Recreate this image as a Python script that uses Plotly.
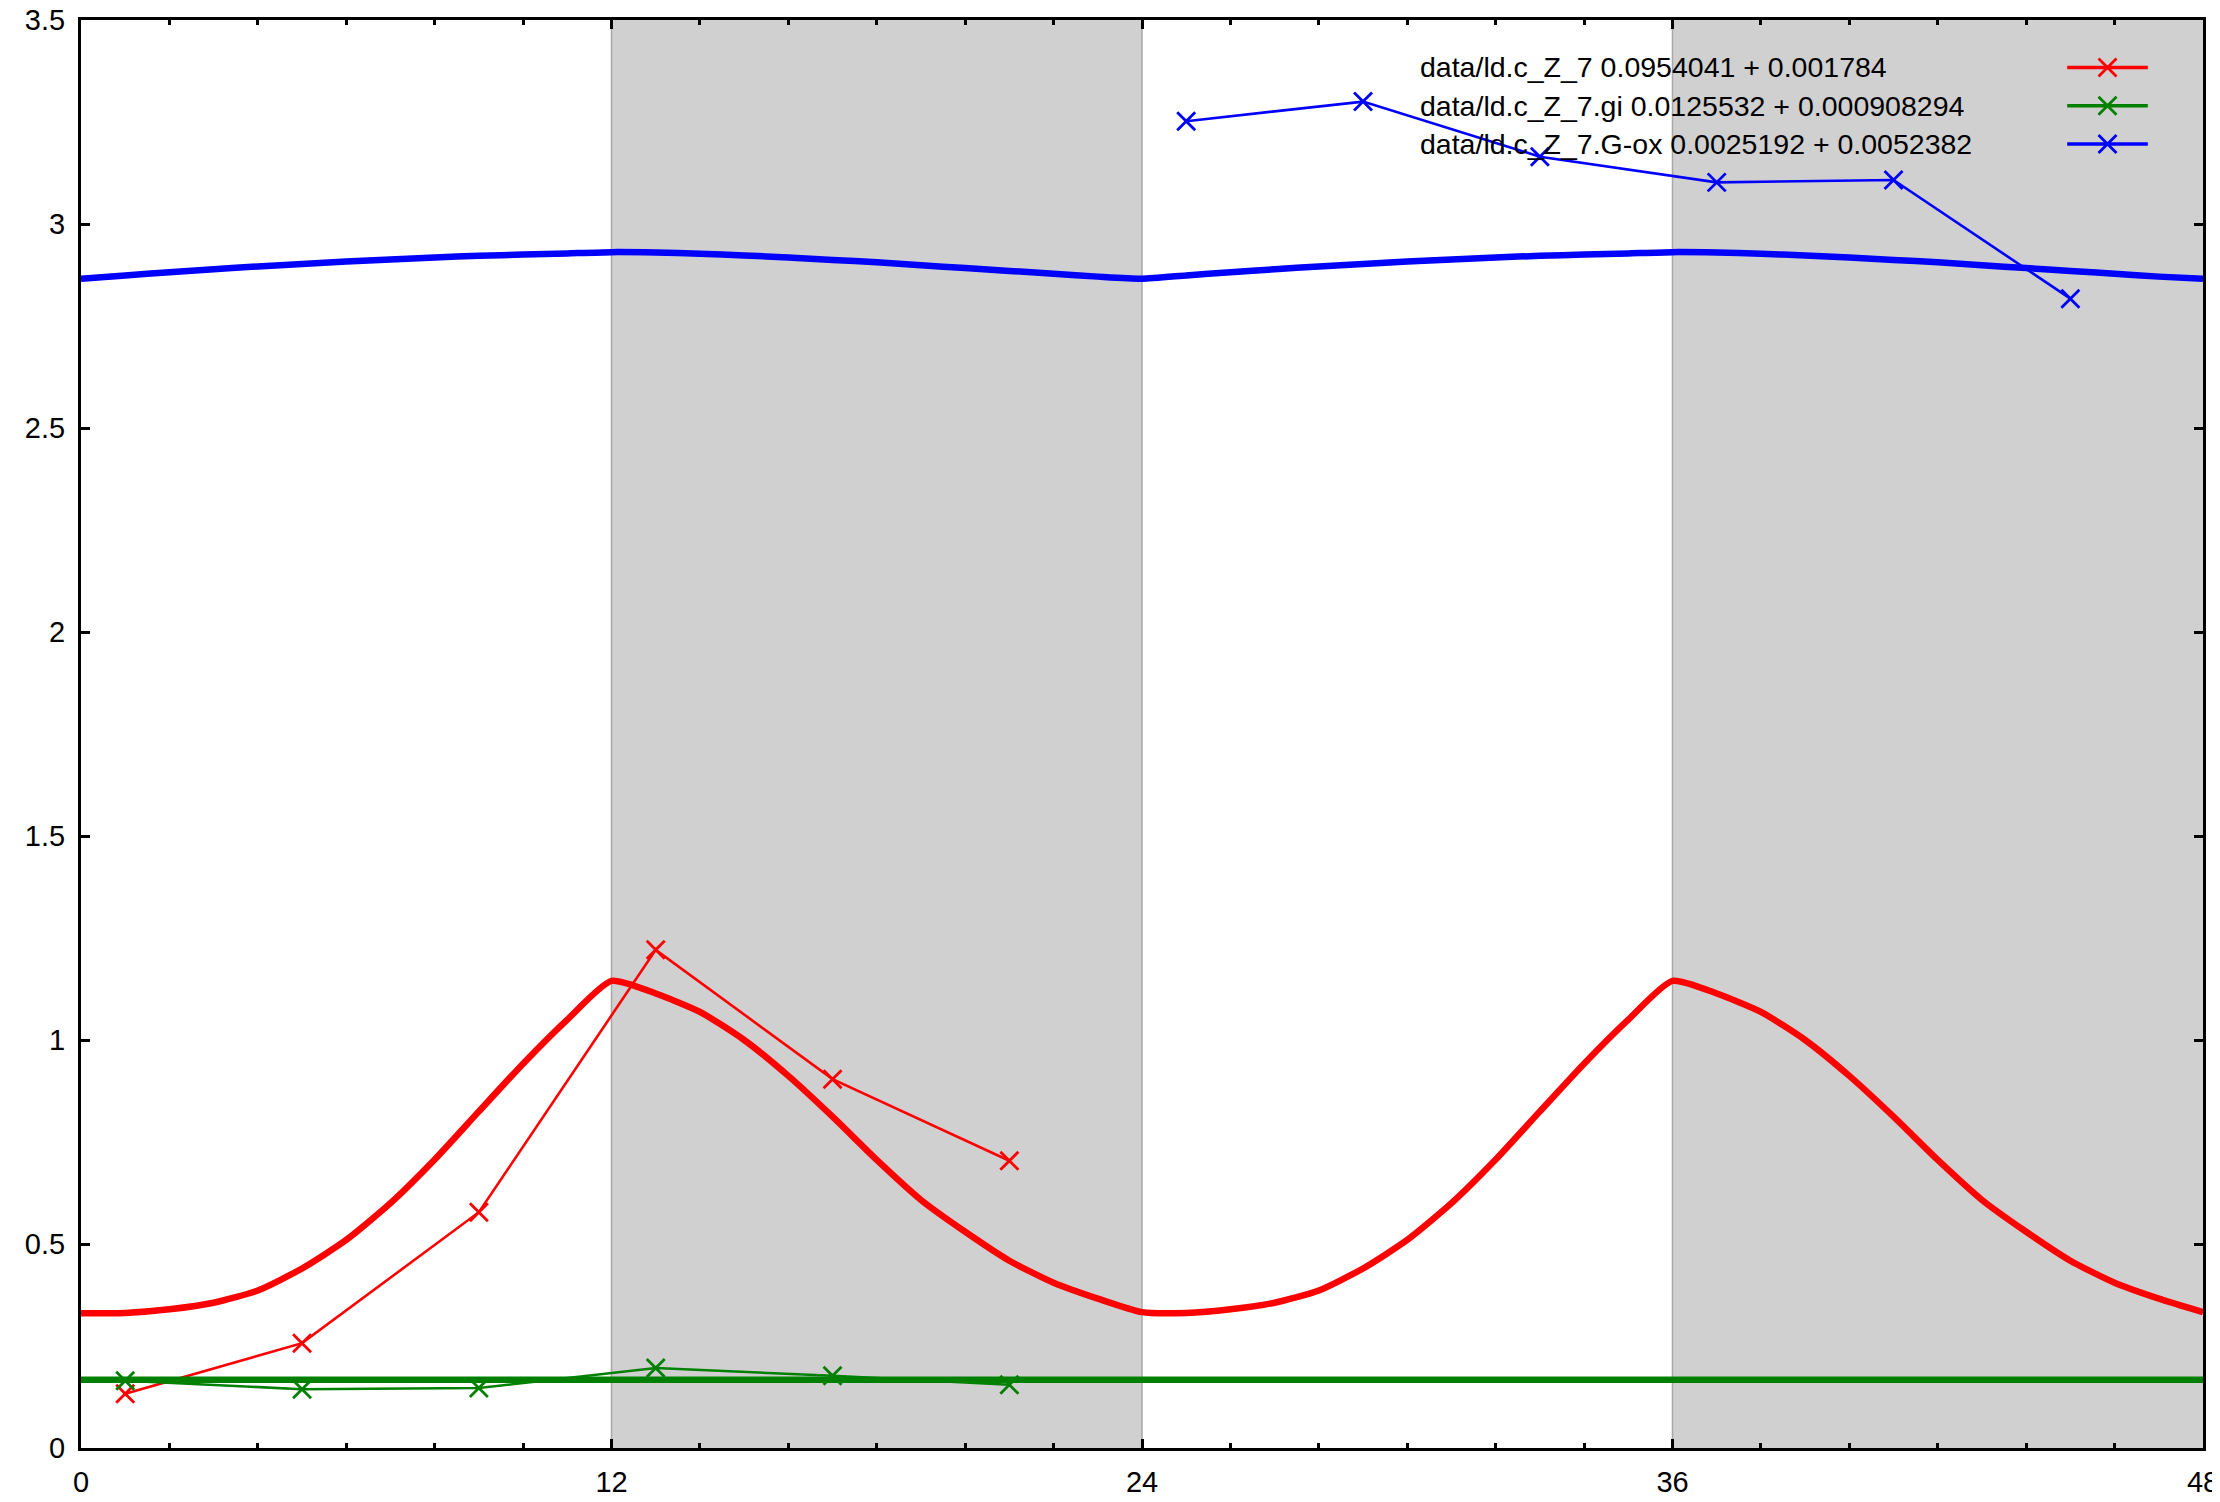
import plotly.graph_objects as go

# ---------------- data ----------------
# measured points (hours, value)
obs_hours_a = [1, 5, 9, 13, 17, 21]
red_obs = [0.133, 0.257, 0.578, 1.221, 0.904, 0.704]
green_obs = [0.165, 0.144, 0.147, 0.196, 0.177, 0.155]

obs_hours_b = [25, 29, 33, 37, 41, 45]
blue_obs = [3.252, 3.300, 3.165, 3.102, 3.108, 2.817]

# fitted model curves, hourly 0..48
fit_hours = list(range(0, 49))
red_fit = [0.330, 0.331, 0.340, 0.356, 0.386, 0.440, 0.510, 0.600, 0.707, 0.825,
           0.942, 1.050, 1.145, 1.114, 1.069, 1.000, 0.912, 0.812, 0.706, 0.608,
           0.530, 0.459, 0.405, 0.366, 0.333,
           0.331, 0.340, 0.356, 0.386, 0.440, 0.510, 0.600, 0.707, 0.825,
           0.942, 1.050, 1.145, 1.114, 1.069, 1.000, 0.912, 0.812, 0.706, 0.608,
           0.530, 0.459, 0.405, 0.366, 0.333]
blue_fit = [2.866, 2.874, 2.882, 2.889, 2.896, 2.902, 2.908, 2.913, 2.918, 2.922,
            2.925, 2.928, 2.931, 2.930, 2.927, 2.923, 2.918, 2.912, 2.906, 2.899,
            2.892, 2.885, 2.878, 2.871, 2.866,
            2.874, 2.882, 2.889, 2.896, 2.902, 2.908, 2.913, 2.918, 2.922,
            2.925, 2.928, 2.931, 2.930, 2.927, 2.923, 2.918, 2.912, 2.906, 2.899,
            2.892, 2.885, 2.878, 2.871, 2.866]
green_fit_hours = [0, 12, 24, 36, 48]
green_fit = [0.167, 0.167, 0.167, 0.167, 0.167]

dark_periods = [(12, 24), (36, 48)]

legend_labels = [
    "data/ld.c_Z_7 0.0954041 + 0.001784",
    "data/ld.c_Z_7.gi 0.0125532 + 0.000908294",
    "data/ld.c_Z_7.G-ox 0.0025192 + 0.0052382",
]

x_ticks = [0, 12, 24, 36, 48]
y_ticks = [0, 0.5, 1, 1.5, 2, 2.5, 3, 3.5]

RED = "#ff0000"
GREEN = "#008000"
BLUE = "#0000ff"
colors = [RED, GREEN, BLUE]
FONT = "Liberation Sans, Arial, Helvetica, sans-serif"

fig = go.Figure()

def fit_trace(x, y, c):
    return go.Scatter(x=x, y=y, mode="lines", line=dict(color=c, width=6.5, shape="spline", smoothing=0.6),
                      showlegend=False, hoverinfo="skip")

def obs_trace(x, y, c):
    return go.Scatter(x=x, y=y, mode="lines+markers", line=dict(color=c, width=2.6),
                      marker=dict(symbol="x-thin", size=18, line=dict(color=c, width=2.8)),
                      showlegend=False, cliponaxis=False)

fig.add_trace(fit_trace(fit_hours, red_fit, RED))
fig.add_trace(obs_trace(obs_hours_a, red_obs, RED))
fig.add_trace(fit_trace(green_fit_hours, green_fit, GREEN))
fig.add_trace(obs_trace(obs_hours_a, green_obs, GREEN))
fig.add_trace(fit_trace(fit_hours, blue_fit, BLUE))
fig.add_trace(obs_trace(obs_hours_b, blue_obs, BLUE))

# dark-period shading
for x0, x1 in dark_periods:
    fig.add_shape(type="rect", xref="x", yref="paper", x0=x0, x1=x1, y0=0, y1=1,
                  fillcolor="#d0d0d0", line=dict(width=0), layer="below")
    for xv in (x0, x1):
        if xv < 48:
            fig.add_shape(type="line", xref="x", yref="paper", x0=xv, x1=xv, y0=0, y1=1,
                          line=dict(color="#a8a8a8", width=1.5), layer="below")

# custom key (text left, sample right) on a hidden overlay axis
key_y = [0.9668, 0.9400, 0.9132]
key_line_x = [0.936, 0.974]
key_mark_x = 0.955
for lbl, c, yk in zip(legend_labels, colors, key_y):
    fig.add_trace(go.Scatter(x=key_line_x, y=[yk, yk], mode="lines", line=dict(color=c, width=3.5),
                             xaxis="x2", yaxis="y2", showlegend=False, hoverinfo="skip"))
    fig.add_trace(go.Scatter(x=[key_mark_x], y=[yk], mode="markers",
                             marker=dict(symbol="x-thin", size=18, line=dict(color=c, width=2.8)),
                             xaxis="x2", yaxis="y2", showlegend=False, hoverinfo="skip"))
    fig.add_annotation(x=0.630, y=yk, xref="paper", yref="paper", text=lbl, showarrow=False,
                       xanchor="left", yanchor="middle", font=dict(family=FONT, size=28.5, color="black"))

axis_common = dict(showgrid=False, zeroline=False, showline=True, linewidth=3, linecolor="black",
                   mirror="allticks", ticks="inside", ticklen=9, tickwidth=3, tickcolor="black",
                   automargin=False, ticklabeloverflow="allow",
                   tickfont=dict(family=FONT, size=29, color="black"))

# the page body adds an 8px offset, so the figure is 8px smaller than the window
fig.update_layout(
    width=2212, height=1494,
    margin=dict(l=73, r=17, t=12, b=54),
    paper_bgcolor="white", plot_bgcolor="white",
    showlegend=False,
    xaxis=dict(range=[0, 48], tickvals=x_ticks, ticklabelstandoff=6,
               minor=dict(dtick=2, tick0=0, ticks="inside", ticklen=5, tickwidth=2.5, tickcolor="black",
                          showgrid=False),
               **axis_common),
    yaxis=dict(range=[0, 3.5], tickvals=y_ticks, ticklabelstandoff=7, **axis_common),
    xaxis2=dict(overlaying="x", range=[0, 1], visible=False, fixedrange=True),
    yaxis2=dict(overlaying="y", range=[0, 1], visible=False, fixedrange=True, anchor="x2"),
)

fig.write_html("out.html")
